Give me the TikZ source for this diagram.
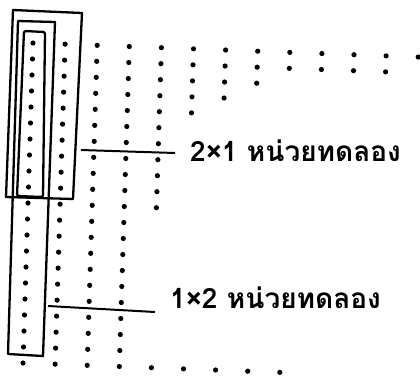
\documentclass[tikz,border=0pt]{standalone}
\usepackage{fontspec}
\newfontfamily\thaifont[Script=Thai]{Loma}
\begin{document}
\begin{tikzpicture}[x=1pt,y=-1pt,
  box/.style={line width=2.3pt, line join=round},
  leader/.style={line width=2pt},
  lab/.style={anchor=west, inner sep=0pt, font=\thaifont\bfseries\fontsize{28}{32}\selectfont}]
\useasboundingbox (0,0) rectangle (420,375);
% dot grid (slightly tilted scan)
\foreach \i/\n in {0/20,1/20,2/20,3/20,4/10,5/4,6/3,7/2,8/1,9/1,10/1,11/1,12/0}{
  \foreach \j in {0,...,\n}{
    \fill ({33+\i*32.1-\j*0.5},{43+\i*1.17+\j*16}) circle (2.6pt);
  }
}
\foreach \i in {4,...,8} \fill ({33+\i*32.1-10},{43+\i*1.17+320}) circle (2.6pt);
% plot boxes
\draw[box] (13,10) -- (82,13) -- (73,199) -- (6,197) -- cycle;
\draw[box] (18,21) -- (55,22) -- (43,356) -- (8,354) -- cycle;
\draw[box, rounded corners=2pt] (24,31) -- (45,32) -- (43,197) -- (17,196) -- cycle;
% labels
\node[lab] (lab1) at (190,151) {2×1 หน่วยทดลอง};
\node[lab] (lab2) at (170,298) {1×2 หน่วยทดลอง};
\coordinate (p1) at (81,150);
\coordinate (p2) at (48,306);
\draw[leader] (p1) -- ([xshift=-15pt,yshift=-2pt]lab1.west);
\draw[leader] (p2) -- ([xshift=-15pt,yshift=-14pt]lab2.west);
\end{tikzpicture}
\end{document}
